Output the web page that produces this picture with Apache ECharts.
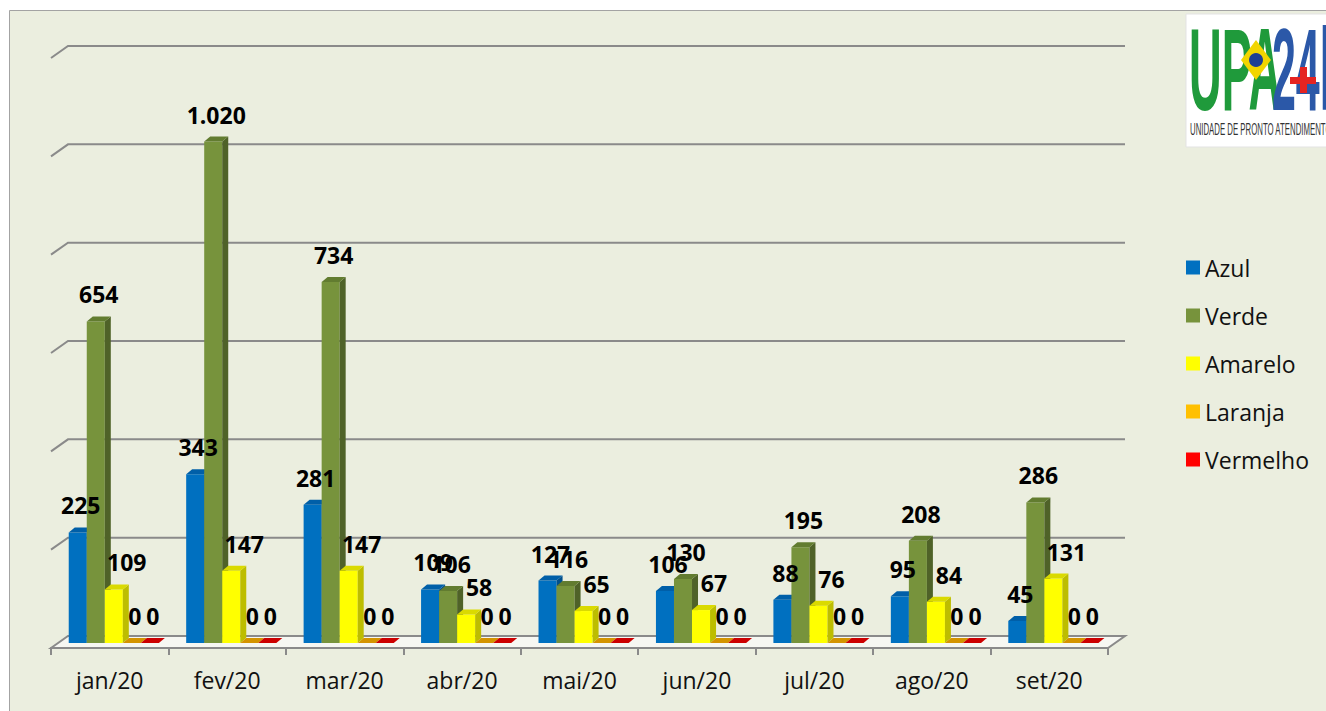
<!DOCTYPE html>
<html>
<head>
<meta charset="utf-8">
<script src="https://cdn.jsdelivr.net/npm/echarts@6/dist/echarts.min.js"></script>
<style>
html,body{margin:0;padding:0;background:#fff;}
#chart{width:1326px;height:711px;}
</style>
</head>
<body>
<div id="chart"></div>
<script>
// ---- data ----
const categories = ['jan/20','fev/20','mar/20','abr/20','mai/20','jun/20','jul/20','ago/20','set/20'];
const azul     = [225, 343, 281, 109, 127, 106, 88, 95, 45];
const verde    = [654, 1020, 734, 106, 116, 130, 195, 208, 286];
const amarelo  = [109, 147, 147, 58, 65, 67, 76, 84, 131];
const laranja  = [0, 0, 0, 0, 0, 0, 0, 0, 0];
const vermelho = [0, 0, 0, 0, 0, 0, 0, 0, 0];
const gridValues = [0, 200, 400, 600, 800, 1000, 1200];
const seriesNames = ['Azul','Verde','Amarelo','Laranja','Vermelho'];

// ---- styles ----
const faces = [
  {front:'#0070C0', side:'#004F8C', top:'#005FA8', labelDx:0},
  {front:'#77933C', side:'#4F6228', top:'#627C30', labelDx:0},
  {front:'#FFFF00', side:'#BDBD00', top:'#DADA00', labelDx:10},
  {front:'#FFC000', side:'#C99000', top:'#D49400', labelDx:0},
  {front:'#FF0000', side:'#B00000', top:'#CC0000', labelDx:0}
];
const DEPTH_X = 6, DEPTH_Y = 5;     // bar depth
const BACK_X = 17, BACK_Y = 12;     // back wall offset
const GRID_COLOR = '#8A8A8A';
const LABEL_FONT = 'bold 23px "Open Sans", sans-serif';

function fmt(v){
  const s = String(Math.round(v));
  return s.replace(/\B(?=(\d{3})+(?!\d))/g, '.');
}

function barRenderer(idx){
  const f = faces[idx];
  return function(params, api){
    const cat = api.value(0), v = api.value(1);
    const base = api.coord([cat, 0]);
    const topP = api.coord([cat, v]);
    const band = api.size([1, 0])[0];
    const bw = band * 0.1535;
    const x0 = base[0] - band / 2 + band * 0.151 + idx * bw;
    const y0 = base[1] - 5;
    const y1 = topP[1] - 5;
    const children = [];
    if (y0 - y1 > 0.5) {
      children.push({type:'rect', shape:{x:x0, y:y1, width:bw, height:y0 - y1}, style:{fill:f.front}});
      children.push({type:'polygon', shape:{points:[[x0+bw,y0],[x0+bw+DEPTH_X,y0-DEPTH_Y],[x0+bw+DEPTH_X,y1-DEPTH_Y],[x0+bw,y1]]}, style:{fill:f.side}});
    }
    children.push({type:'polygon', shape:{points:[[x0,y1],[x0+DEPTH_X,y1-DEPTH_Y],[x0+bw+DEPTH_X,y1-DEPTH_Y],[x0+bw,y1]]}, style:{fill:f.top}});
    children.push({type:'text', z2:100, style:{
      text: fmt(v), x: x0 + bw/2 + DEPTH_X/2 + f.labelDx, y: y1 - 27,
      align:'center', verticalAlign:'middle', font: LABEL_FONT, fill:'#000'
    }});
    return {type:'group', children};
  };
}

function frameRenderer(params, api){
  const v = api.value(1);
  const p = api.coord([0, v]);
  const cs = params.coordSys;
  const L = cs.x, R = cs.x + cs.width, y = p[1];
  if (v === 0) {
    return {type:'polygon', shape:{points:[[L,y],[L+BACK_X,y-BACK_Y],[R+BACK_X,y-BACK_Y],[R,y]]},
      style:{fill:'#F6F7F2', stroke:GRID_COLOR, lineWidth:2}};
  }
  return {type:'polyline', shape:{points:[[L,y],[L+BACK_X,y-BACK_Y],[R+BACK_X,y-BACK_Y]]},
    style:{fill:null, stroke:GRID_COLOR, lineWidth:2}};
}

const dataSets = [azul, verde, amarelo, laranja, vermelho];
const series = [{
  type:'custom', name:'_frame', z:1, silent:true,
  data: gridValues.map(v => [0, v]),
  renderItem: frameRenderer
}];
dataSets.forEach((arr, i) => {
  series.push({
    type:'custom', name: seriesNames[i], z:2,
    itemStyle:{color: faces[i].front},
    data: arr.map((v, k) => [k, v]),
    renderItem: barRenderer(i)
  });
});

const chart = echarts.init(document.getElementById('chart'), null, {renderer:'svg'});
chart.setOption({
  backgroundColor:'#ffffff',
  animation:false,
  graphic:[
    {type:'rect', z:-10, shape:{x:9.5, y:10.5, width:1340, height:720},
      style:{fill:'#EBEEDF', stroke:'#A3A3A3', lineWidth:1}},
    // logo
    {type:'rect', z:5, shape:{x:1186, y:14, width:145, height:133}, style:{fill:'#ffffff', stroke:'#E3E3E3'}},
    {type:'text', z:6, x:1189, y:12, scaleX:0.39,
      style:{text:'UPA', font:'bold 116px "Liberation Sans", Arial, sans-serif', fill:'#1F9A3B'}},
    {type:'text', z:6, x:1272, y:12, scaleX:0.37,
      style:{text:'24h', font:'bold 116px "Liberation Sans", Arial, sans-serif', fill:'#2B58A8'}},
    {type:'polygon', z:7, shape:{points:[[1256,40],[1271,60],[1256,80],[1241,60]]}, style:{fill:'#F2D500'}},
    {type:'circle', z:8, shape:{cx:1256, cy:60, r:7}, style:{fill:'#1D3F94'}},
    {type:'rect', z:7, shape:{x:1300, y:67, width:7, height:26}, style:{fill:'#E52421'}},
    {type:'rect', z:7, shape:{x:1290, y:77, width:26, height:7}, style:{fill:'#E52421'}},
    {type:'text', z:6, x:1190, y:121, scaleX:0.46,
      style:{text:'UNIDADE DE PRONTO ATENDIMENTO', font:'17px "Liberation Sans", Arial, sans-serif', fill:'#333'}}
  ],
  legend:{
    orient:'vertical', left:1181, top:251,
    icon:'rect', itemWidth:14, itemHeight:14, itemGap:25,
    data: seriesNames,
    textStyle:{fontSize:23, lineHeight:23, fontFamily:'"Open Sans", sans-serif', color:'#111'}
  },
  grid:{left:51, right:218, top:58, bottom:63, containLabel:false},
  xAxis:{
    type:'category', data:categories, boundaryGap:true,
    axisLine:{show:true, lineStyle:{color:GRID_COLOR, width:2}},
    axisTick:{show:true, length:7, lineStyle:{color:GRID_COLOR, width:2}},
    axisLabel:{fontSize:23, margin:20, color:'#111', fontFamily:'"Open Sans", sans-serif'},
    splitLine:{show:false}
  },
  yAxis:{
    type:'value', min:0, max:1200, interval:200, show:false
  },
  series: series
});
</script>
</body>
</html>
